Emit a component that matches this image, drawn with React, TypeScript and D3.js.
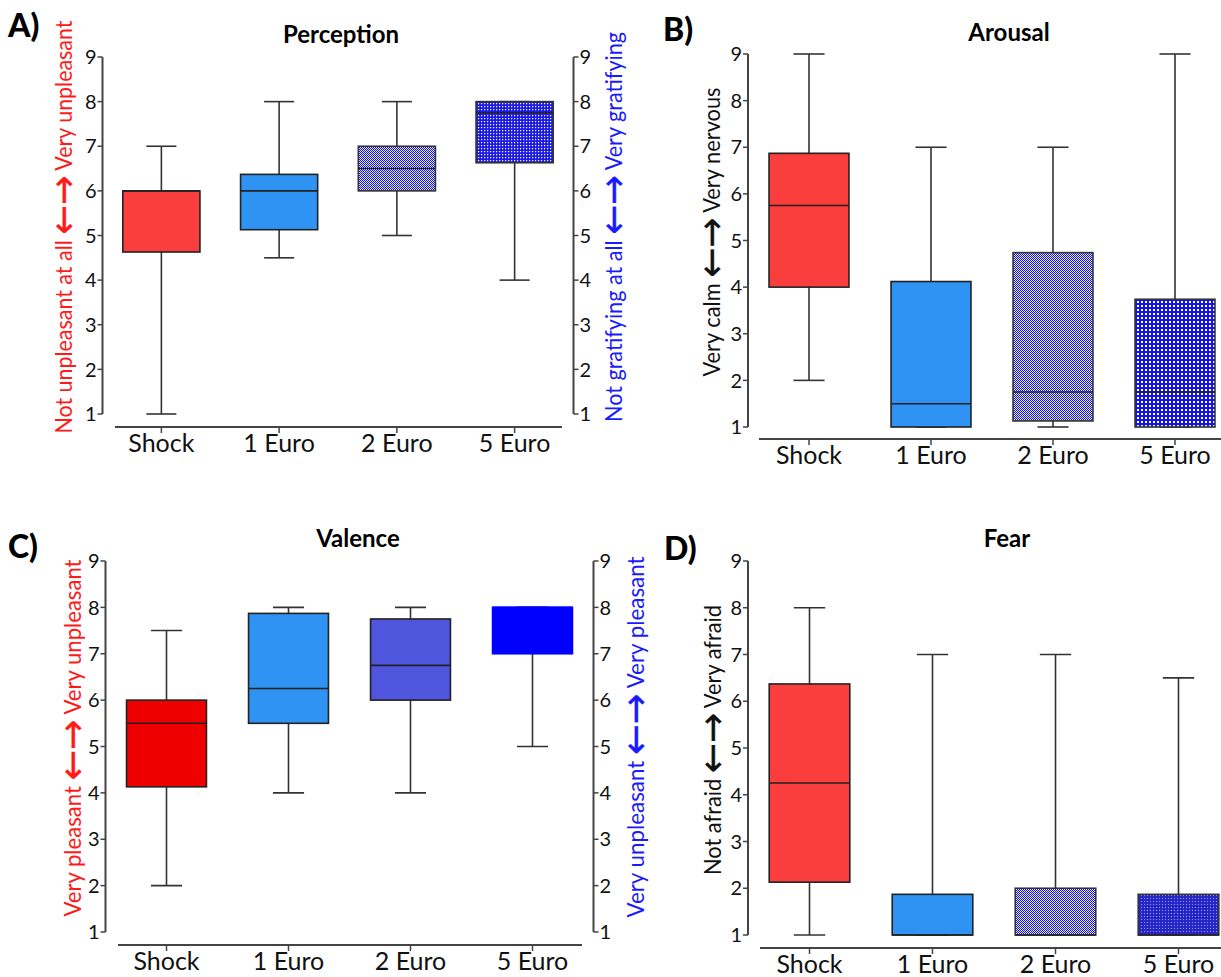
import React from "react";
import * as d3 from "d3";

const categories = ["Shock", "1 Euro", "2 Euro", "5 Euro"];
const yTicks = [1, 2, 3, 4, 5, 6, 7, 8, 9];

// Perception (A)
const perceptionMin = [1, 4.5, 5, 4];
const perceptionQ1 = [4.63, 5.13, 6, 6.63];
const perceptionMedian = [6, 6, 6.5, 7.75];
const perceptionQ3 = [6, 6.37, 7, 8];
const perceptionMax = [7, 8, 8, 8];

// Arousal (B)
const arousalMin = [2, 1, 1, 1];
const arousalQ1 = [4, 1, 1.13, 1];
const arousalMedian = [5.75, 1.5, 1.75, 1.75];
const arousalQ3 = [6.87, 4.12, 4.74, 3.74];
const arousalMax = [9, 7, 7, 9];

// Valence (C)
const valenceMin = [2, 4, 4, 5];
const valenceQ1 = [4.13, 5.5, 6, 7];
const valenceMedian = [5.5, 6.25, 6.75, 8];
const valenceQ3 = [6, 7.87, 7.75, 8];
const valenceMax = [7.5, 8, 8, 8];

// Fear (D)
const fearMin = [1, 1, 1, 1];
const fearQ1 = [2.13, 1, 1, 1];
const fearMedian = [4.25, 1, 1, 1];
const fearQ3 = [6.37, 1.87, 2, 1.87];
const fearMax = [8, 7, 7, 6.5];

const FONT = "Lato, 'Open Sans', 'DejaVu Sans', sans-serif";
const ARROW_FONT = "'DejaVu Sans', sans-serif";
const ARROWS = "\u2190\u2192";
const RED = "#ff1a1a";
const BLUE = "#1a1aff";

type Panel = {
  letter: string;
  title: string;
  mins: number[];
  q1s: number[];
  meds: number[];
  q3s: number[];
  maxs: number[];
  fills: string[];
  strokes: string[];
  axisX: number;
  step: number;
  yTop: number;
  yBottom: number;
  xAxisY: number;
  xAxisFrom: number;
  xAxisTo: number;
  rightAxis: boolean;
  titleX: number;
  titleY: number;
  letterX: number;
  letterY: number;
  leftLabel: [string, string];
  leftColor: string;
  leftX: number;
  leftCy: number;
  leftLen: number;
  rightLabel?: [string, string];
  rightX?: number;
  rightCy?: number;
  rightLen?: number;
};

const panels: Panel[] = [
  {
    letter: "A)", title: "Perception",
    mins: perceptionMin, q1s: perceptionQ1, meds: perceptionMedian, q3s: perceptionQ3, maxs: perceptionMax,
    fills: ["#fa3d3d", "#2e93f2", "url(#checkA)", "url(#gridA)"],
    strokes: ["#222", "#222", "#333", "#333"],
    axisX: 102.5, step: 117.75, yTop: 57, yBottom: 414, xAxisY: 427, xAxisFrom: 115, xAxisTo: 562,
    rightAxis: true, titleX: 341, titleY: 43, letterX: 8, letterY: 37,
    leftLabel: ["Not unpleasant at all ", " Very unpleasant"], leftColor: RED, leftX: 72, leftCy: 227, leftLen: 413,
    rightLabel: ["Not gratifying at all ", " Very gratifying"], rightX: 622, rightCy: 227, rightLen: 390,
  },
  {
    letter: "B)", title: "Arousal",
    mins: arousalMin, q1s: arousalQ1, meds: arousalMedian, q3s: arousalQ3, maxs: arousalMax,
    fills: ["#fa3d3d", "#2e93f2", "url(#checkA)", "url(#gridB)"],
    strokes: ["#222", "#222", "#333", "#333"],
    axisX: 748, step: 122, yTop: 54, yBottom: 427, xAxisY: 439, xAxisFrom: 759, xAxisTo: 1221,
    rightAxis: false, titleX: 1009, titleY: 41, letterX: 663, letterY: 41,
    leftLabel: ["Very calm ", " Very nervous"], leftColor: "#111", leftX: 720, leftCy: 232, leftLen: 289,
  },
  {
    letter: "C)", title: "Valence",
    mins: valenceMin, q1s: valenceQ1, meds: valenceMedian, q3s: valenceQ3, maxs: valenceMax,
    fills: ["#ee0000", "#2e93f2", "#5055dd", "#0000ff"],
    strokes: ["#222", "#222", "#222", "#0000ff"],
    axisX: 105.5, step: 122, yTop: 561, yBottom: 932, xAxisY: 945, xAxisFrom: 118, xAxisTo: 582,
    rightAxis: true, titleX: 358, titleY: 547, letterX: 8, letterY: 558,
    leftLabel: ["Very pleasant ", " Very unpleasant"], leftColor: RED, leftX: 81, leftCy: 738, leftLen: 357,
    rightLabel: ["Very unpleasant ", " Very pleasant"], rightX: 644, rightCy: 737, rightLen: 361,
  },
  {
    letter: "D)", title: "Fear",
    mins: fearMin, q1s: fearQ1, meds: fearMedian, q3s: fearQ3, maxs: fearMax,
    fills: ["#fa3d3d", "#2e93f2", "url(#checkA)", "url(#gridD)"],
    strokes: ["#222", "#222", "#333", "#333"],
    axisX: 748, step: 123, yTop: 561, yBottom: 935, xAxisY: 948, xAxisFrom: 760, xAxisTo: 1221,
    rightAxis: false, titleX: 1007, titleY: 547, letterX: 664, letterY: 560,
    leftLabel: ["Not afraid ", " Very afraid"], leftColor: "#111", leftX: 721, leftCy: 740, leftLen: 270,
  },
];

function AxisLabel({ x, cy, len, color, parts }: { x: number; cy: number; len: number; color: string; parts: [string, string] }) {
  return (
    <text
      transform={`translate(${x},${cy}) rotate(-90)`}
      textAnchor="middle"
      fontFamily={FONT}
      fontSize={23}
      fill={color}
      textLength={len}
      lengthAdjust="spacingAndGlyphs"
    >
      <tspan>{parts[0]}</tspan>
      <tspan fontFamily={ARROW_FONT} fontSize={38} dy={4} stroke={color} strokeWidth={0.3}>{ARROWS}</tspan>
      <tspan dy={-4}>{parts[1]}</tspan>
    </text>
  );
}

function PanelView({ p }: { p: Panel }) {
  const x = d3
    .scaleBand<string>()
    .domain(categories)
    .range([p.axisX, p.axisX + p.step * categories.length])
    .paddingInner(0)
    .paddingOuter(0);
  const y = d3.scaleLinear().domain([1, 9]).range([p.yBottom, p.yTop]);
  const bw = x.bandwidth();
  const boxW = bw * 0.655;
  const capW = bw * 0.255;
  const axisColor = "#444";
  const rightX = p.axisX + p.step * categories.length;

  return (
    <g>
      <text x={p.letterX} y={p.letterY} fontFamily={FONT} fontWeight={900} fontSize={32} fill="#000">
        {p.letter}
      </text>
      <text x={p.titleX} y={p.titleY} textAnchor="middle" fontFamily={FONT} fontWeight={700} fontSize={24} fill="#000">
        {p.title}
      </text>

      {/* left y axis */}
      <line x1={p.axisX} x2={p.axisX} y1={y(9)} y2={y(1)} stroke={axisColor} strokeWidth={2} />
      {yTicks.map((t) => (
        <g key={"l" + t}>
          <line x1={p.axisX - 5} x2={p.axisX} y1={y(t)} y2={y(t)} stroke={axisColor} strokeWidth={1.5} />
          <text x={p.axisX - 6} y={y(t)} dy="0.36em" textAnchor="end" fontFamily={FONT} fontSize={20} fill="#111">
            {t}
          </text>
        </g>
      ))}

      {/* right y axis */}
      {p.rightAxis && (
        <g>
          <line x1={rightX} x2={rightX} y1={y(9)} y2={y(1)} stroke={axisColor} strokeWidth={2} />
          {yTicks.map((t) => (
            <g key={"r" + t}>
              <line x1={rightX} x2={rightX + 5} y1={y(t)} y2={y(t)} stroke={axisColor} strokeWidth={1.5} />
              <text x={rightX + 6} y={y(t)} dy="0.36em" textAnchor="start" fontFamily={FONT} fontSize={20} fill="#111">
                {t}
              </text>
            </g>
          ))}
        </g>
      )}

      {/* x axis */}
      <line x1={p.xAxisFrom} x2={p.xAxisTo} y1={p.xAxisY} y2={p.xAxisY} stroke={axisColor} strokeWidth={2} />
      {categories.map((c) => {
        const cx = (x(c) as number) + bw / 2;
        return (
          <g key={"x" + c}>
            <line x1={cx} x2={cx} y1={p.xAxisY} y2={p.xAxisY + 6} stroke={axisColor} strokeWidth={1.5} />
            <text x={cx} y={p.xAxisY + 25} textAnchor="middle" fontFamily={FONT} fontSize={25} fill="#111">
              {c}
            </text>
          </g>
        );
      })}

      {/* boxes */}
      {categories.map((c, i) => {
        const cx = (x(c) as number) + bw / 2;
        const top = y(p.q3s[i]);
        const bot = y(p.q1s[i]);
        return (
          <g key={"b" + c}>
            <line x1={cx} x2={cx} y1={y(p.maxs[i])} y2={top} stroke="#333" strokeWidth={1.6} />
            <line x1={cx} x2={cx} y1={bot} y2={y(p.mins[i])} stroke="#333" strokeWidth={1.6} />
            <line x1={cx - capW / 2} x2={cx + capW / 2} y1={y(p.maxs[i])} y2={y(p.maxs[i])} stroke="#333" strokeWidth={1.6} />
            <line x1={cx - capW / 2} x2={cx + capW / 2} y1={y(p.mins[i])} y2={y(p.mins[i])} stroke="#333" strokeWidth={1.6} />
            <rect
              x={cx - boxW / 2}
              y={top}
              width={boxW}
              height={Math.max(0, bot - top)}
              fill={p.fills[i]}
              stroke={p.strokes[i]}
              strokeWidth={1.6}
            />
            <line x1={cx - boxW / 2} x2={cx + boxW / 2} y1={y(p.meds[i])} y2={y(p.meds[i])} stroke={p.strokes[i] === "#0000ff" ? "#0000ff" : "#222"} strokeWidth={1.6} />
          </g>
        );
      })}

      {/* axis labels */}
      <AxisLabel x={p.leftX} cy={p.leftCy} len={p.leftLen} color={p.leftColor} parts={p.leftLabel} />
      {p.rightLabel && (
        <AxisLabel x={p.rightX as number} cy={p.rightCy as number} len={p.rightLen as number} color={BLUE} parts={p.rightLabel} />
      )}
    </g>
  );
}

export default function App() {
  return (
    <svg width={1221} height={977} style={{ display: "block", position: "absolute", left: 0, top: 0, background: "#fff" }}>
      <defs>
        <pattern id="checkA" patternUnits="userSpaceOnUse" width={2} height={2}>
          <rect width={2} height={2} fill="#e4e4ff" />
          <rect x={0} y={0} width={1} height={1} fill="#1414d8" />
          <rect x={1} y={1} width={1} height={1} fill="#1414d8" />
        </pattern>
        <pattern id="gridA" patternUnits="userSpaceOnUse" width={3} height={3}>
          <rect width={3} height={3} fill="#1c1ce0" />
          <rect x={1} y={1} width={1.2} height={1.2} fill="#ffffff" />
        </pattern>
        <pattern id="gridB" patternUnits="userSpaceOnUse" width={4} height={4}>
          <rect width={4} height={4} fill="#1414e6" />
          <rect x={1} y={1} width={2} height={2} fill="#ffffff" />
        </pattern>
        <pattern id="gridD" patternUnits="userSpaceOnUse" width={3} height={3}>
          <rect width={3} height={3} fill="#2626c8" />
          <rect x={1} y={1} width={1} height={1} fill="#a0a0ff" />
        </pattern>
      </defs>
      <rect width={1221} height={977} fill="#fff" />
      {panels.map((p) => (
        <PanelView key={p.letter} p={p} />
      ))}
    </svg>
  );
}
